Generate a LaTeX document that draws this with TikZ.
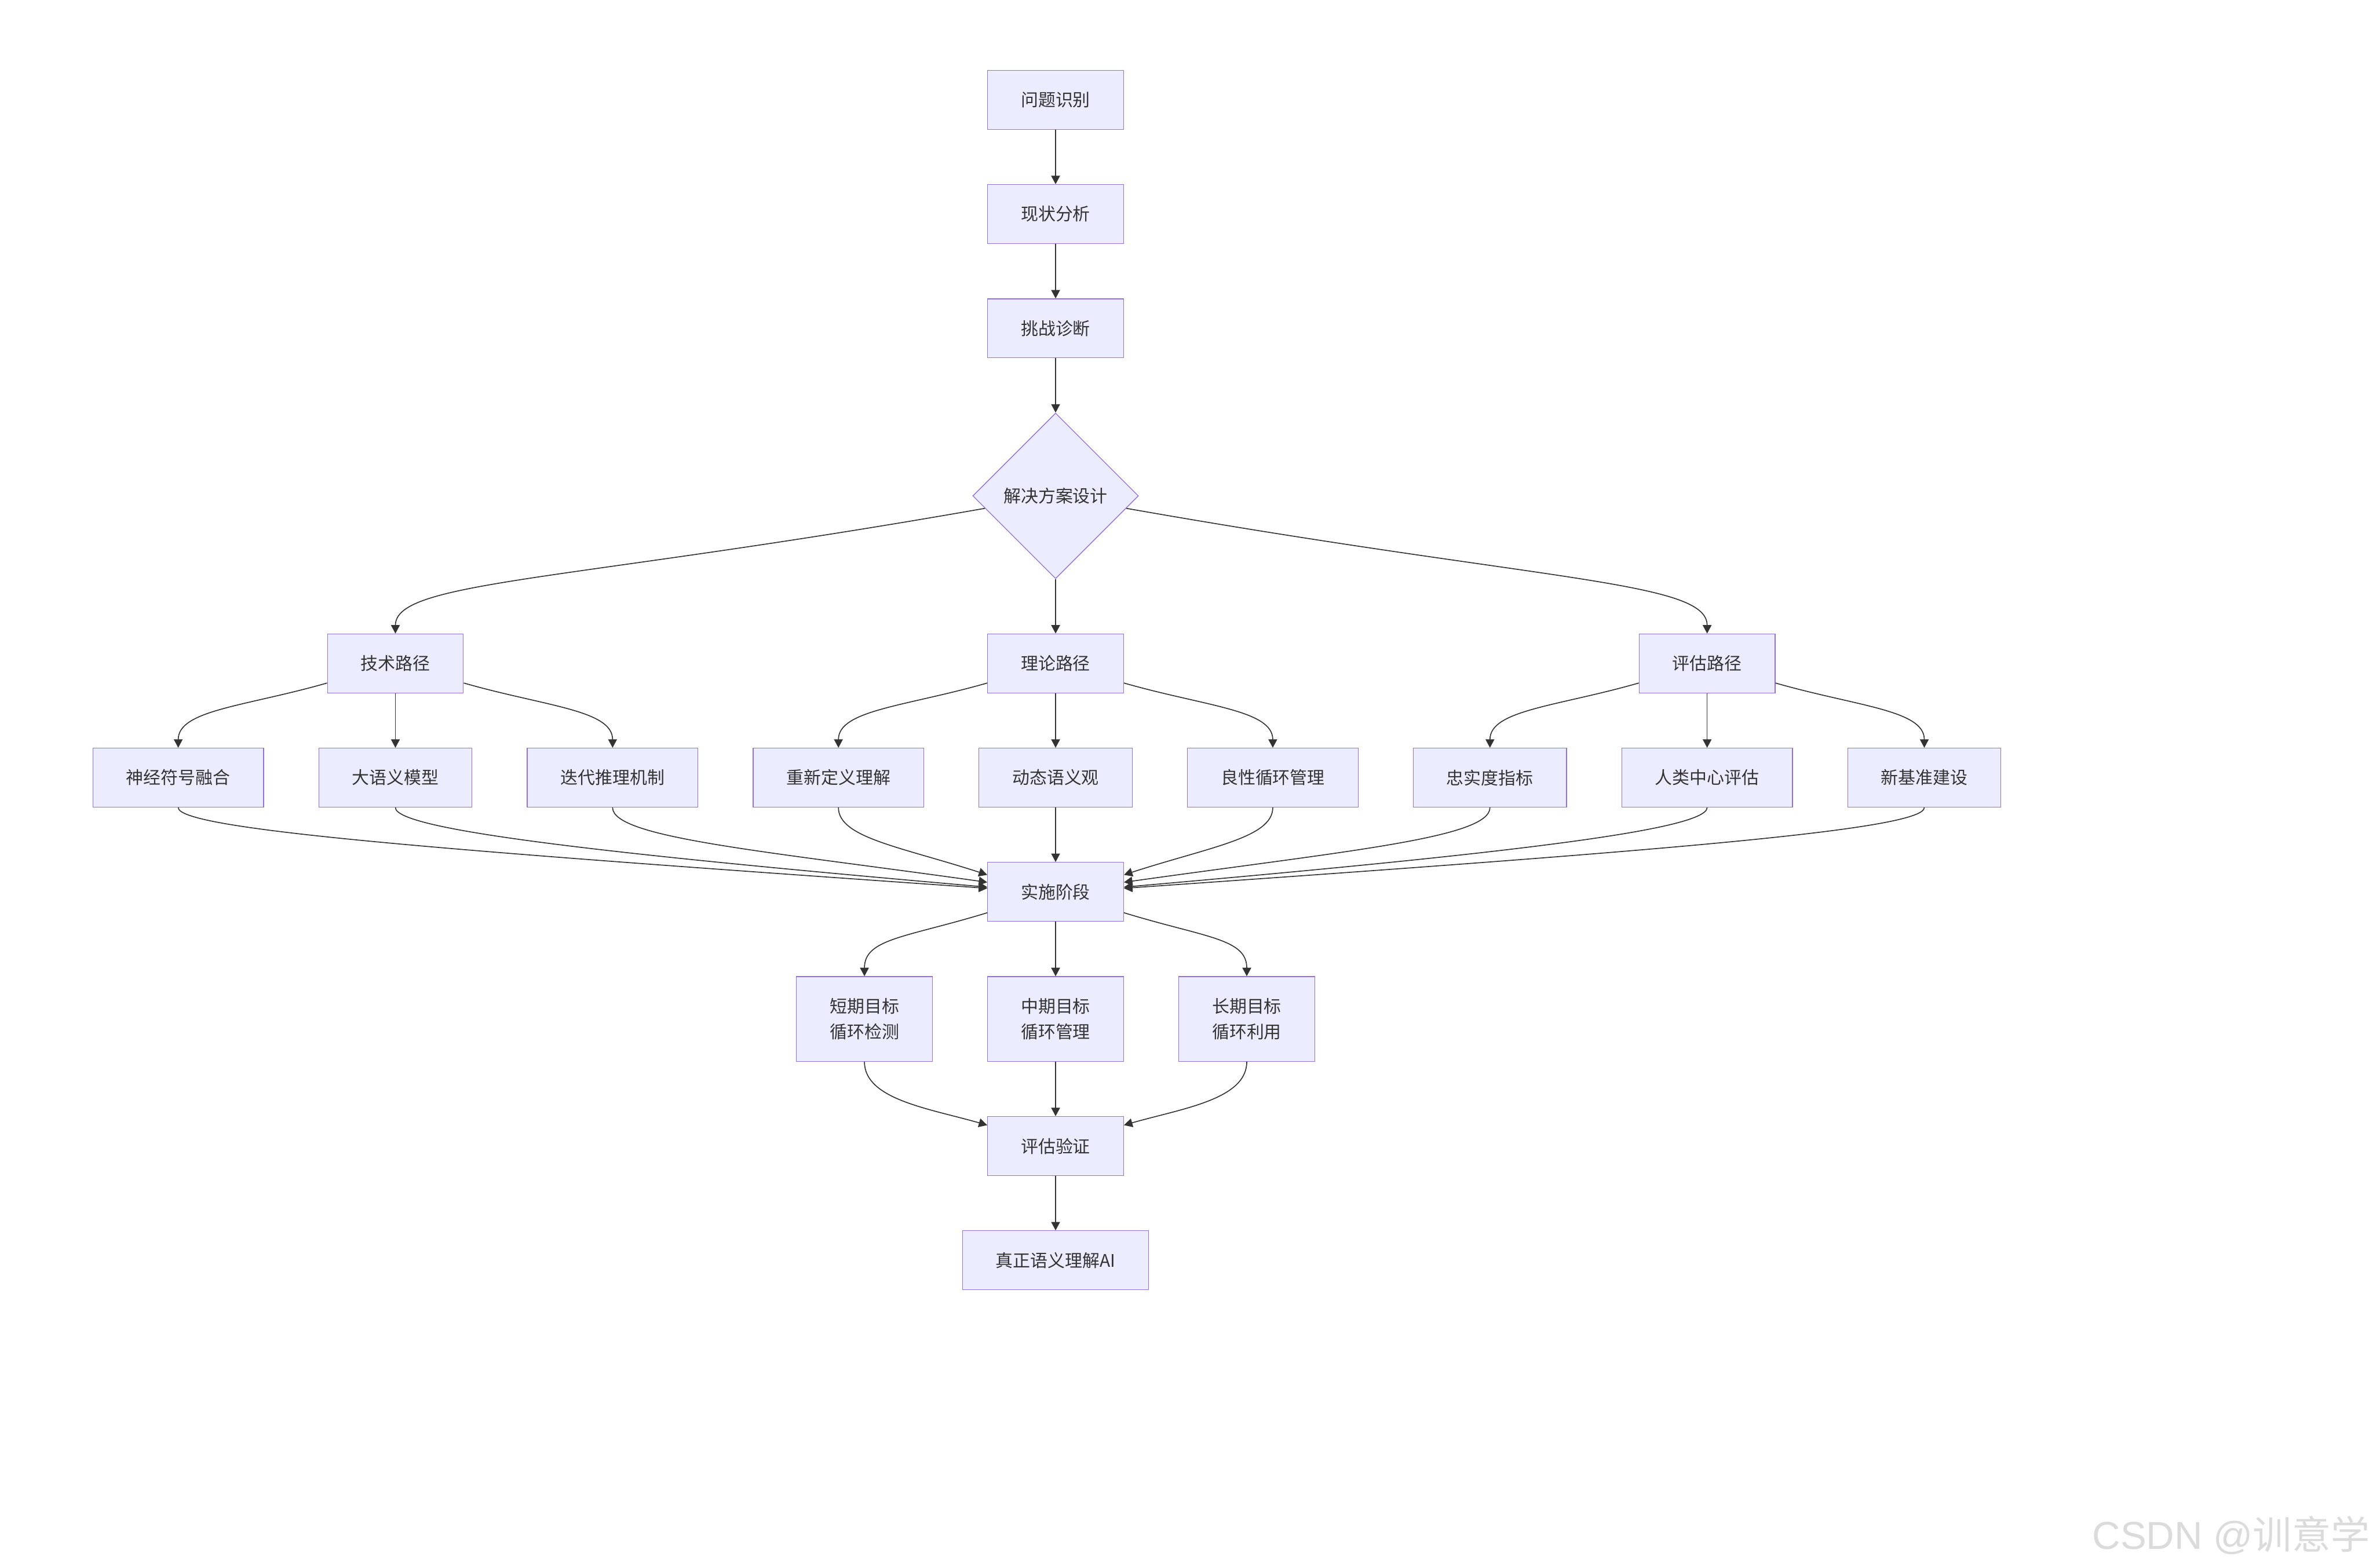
\documentclass[tikz,border=0pt]{standalone}
\usepackage{fontspec}
\usepackage{xcolor}
\usepackage{tikz}
\usetikzlibrary{shapes.geometric, arrows.meta, positioning}
\newfontfamily\cjkfont{Noto Sans CJK SC}
\newfontfamily\wmlatin{Liberation Sans}
\definecolor{boxfill}{HTML}{ECECFF}
\definecolor{boxline}{HTML}{9370DB}
\definecolor{inkcol}{HTML}{333333}
\newcommand{\boxfont}{\cjkfont\fontsize{16.3pt}{24pt}\selectfont}

\begin{document}
\begin{tikzpicture}[
    x=0.05cm, y=0.05cm,
    node distance=1.8cm,
    phase/.style={rectangle, draw=boxline, fill=boxfill, line width=0.7pt, text=inkcol, minimum height=1.95cm, inner xsep=1.1cm, font=\boxfont},
    goalbox/.style={phase, minimum height=2.8cm, align=center},
    decision/.style={diamond, aspect=1, draw=boxline, fill=boxfill, line width=0.7pt, text=inkcol, minimum width=5.475cm, minimum height=5.475cm, inner sep=0pt, font=\boxfont},
    arrow/.style={-{Triangle[length=2.8mm, width=2.9mm]}, line width=0.9pt, draw=inkcol},
    split/.style={out distance=2.8cm, in distance=1.25cm}
]
    \useasboundingbox (0,0) rectangle (1568,-1036);

    \node[phase] (idf) at (697.5,-66) {问题识别};
    \node[phase, below=of idf] (ana) {现状分析};
    \node[phase, below=of ana] (diag) {挑战诊断};
    \node[decision, below=of diag] (sol) {解决方案设计};
    \node[phase, below=of sol] (theo) {理论路径};

    \node[phase, below=of theo] (dyn) {动态语义观};
    \node[phase, left=of dyn] (redef) {重新定义理解};
    \node[phase, left=of redef] (iter) {迭代推理机制};
    \node[phase, left=of iter] (llm) {大语义模型};
    \node[phase, left=of llm] (nsf) {神经符号融合};
    \node[phase, right=of dyn] (benign) {良性循环管理};
    \node[phase, right=of benign] (faith) {忠实度指标};
    \node[phase, right=of faith] (human) {人类中心评估};
    \node[phase, right=of human] (bench) {新基准建设};
    \node[phase, above=of llm] (tech) {技术路径};
    \node[phase, above=of human] (eval) {评估路径};

    \node[phase, below=of dyn] (impl) {实施阶段};
    \node[goalbox, below=of impl] (mid) {中期目标\\循环管理};
    \node[goalbox, left=of mid] (short) {短期目标\\循环检测};
    \node[goalbox, right=of mid] (long) {长期目标\\循环利用};
    \node[phase, below=of mid] (ver) {评估验证};
    \node[phase, below=of ver] (goal) {真正语义理解AI};

    \node[anchor=base east, inner sep=0pt, text=black!14, font=\fontsize{36.6pt}{40pt}\selectfont] (mark) at (1566,-1024) {{\wmlatin CSDN @}{\cjkfont 训意学}};

    \draw[arrow] (idf) -- (ana);
    \draw[arrow] (ana) -- (diag);
    \draw[arrow] (diag) -- (sol);
    \draw[arrow] (sol) -- (theo);
    \draw[arrow] (sol) to[out=190, in=90, out distance=14cm, in distance=1.75cm] (tech);
    \draw[arrow] (sol) to[out=-10, in=90, out distance=14cm, in distance=1.75cm] (eval);

    \draw[arrow] (tech) to[out=196, in=90, split] (nsf);
    \draw[arrow] (tech) -- (llm);
    \draw[arrow] (tech) to[out=-16, in=90, split] (iter);
    \draw[arrow] (theo) to[out=196, in=90, split] (redef);
    \draw[arrow] (theo) -- (dyn);
    \draw[arrow] (theo) to[out=-16, in=90, split] (benign);
    \draw[arrow] (eval) to[out=196, in=90, split] (faith);
    \draw[arrow] (eval) -- (human);
    \draw[arrow] (eval) to[out=-16, in=90, split] (bench);

    \draw[arrow] (nsf) to[out=-90, in=176, out distance=0.75cm, in distance=17.5cm] (impl.177);
    \draw[arrow] (llm) to[out=-90, in=175, out distance=0.75cm, in distance=12.5cm] (impl.176);
    \draw[arrow] (iter) to[out=-90, in=172, out distance=1cm, in distance=7.5cm] (impl.172);
    \draw[arrow] (redef) to[out=-90, in=162, out distance=1cm, in distance=3cm] (impl.166);
    \draw[arrow] (dyn) -- (impl);
    \draw[arrow] (benign) to[out=-90, in=18, out distance=1cm, in distance=3cm] (impl.14);
    \draw[arrow] (faith) to[out=-90, in=8, out distance=1cm, in distance=7.5cm] (impl.8);
    \draw[arrow] (human) to[out=-90, in=5, out distance=0.75cm, in distance=12.5cm] (impl.4);
    \draw[arrow] (bench) to[out=-90, in=4, out distance=0.75cm, in distance=17.5cm] (impl.3);

    \draw[arrow] (impl) to[out=197, in=90, split] (short);
    \draw[arrow] (impl) -- (mid);
    \draw[arrow] (impl) to[out=-17, in=90, split] (long);

    \draw[arrow] (short) to[out=-90, in=164, out distance=1.25cm, in distance=2cm] (ver.163);
    \draw[arrow] (mid) -- (ver);
    \draw[arrow] (long) to[out=-90, in=16, out distance=1.25cm, in distance=2cm] (ver.17);
    \draw[arrow] (ver) -- (goal);
\end{tikzpicture}
\end{document}
